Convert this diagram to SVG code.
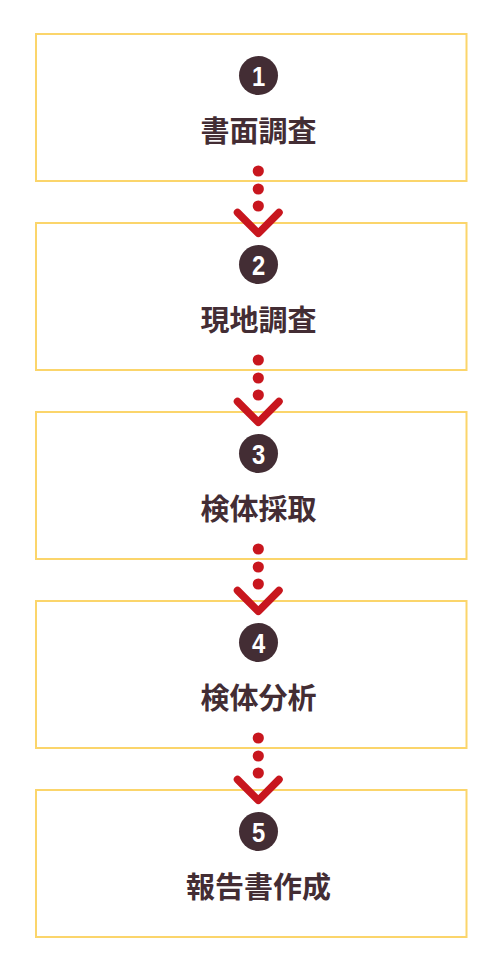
<svg xmlns="http://www.w3.org/2000/svg" width="500" height="970" viewBox="0 0 500 970">
<style>
.box{fill:#fff;stroke:#fbd56b;stroke-width:2}
.num{fill:#432d34}
.nt{fill:#fff;font-family:"Liberation Sans",sans-serif;font-weight:bold;font-size:28px;text-anchor:middle}
.lbl{fill:#432d34;font-family:"Noto Sans CJK JP",sans-serif;font-weight:bold;font-size:29px;text-anchor:middle}
.dot{fill:#c8161e}
.chev{fill:none;stroke:#c8161e;stroke-width:7.5;stroke-linecap:round;stroke-linejoin:round}
</style>
<rect width="500" height="970" fill="#fff"/>
<g id="node1"><rect class="box" x="36" y="34" width="430.5" height="147"/><circle class="num" cx="258.5" cy="75.5" r="19.5"/><text class="nt" transform="translate(258.5,86) scale(0.85,1)">1</text><text class="lbl" x="258.5" y="142">書面調査</text></g>
<g id="node2"><rect class="box" x="36" y="223" width="430.5" height="147"/><circle class="num" cx="258.5" cy="264.5" r="19.5"/><text class="nt" transform="translate(258.5,275) scale(0.85,1)">2</text><text class="lbl" x="258.5" y="331">現地調査</text></g>
<g id="node3"><rect class="box" x="36" y="412" width="430.5" height="147"/><circle class="num" cx="258.5" cy="453.5" r="19.5"/><text class="nt" transform="translate(258.5,464) scale(0.85,1)">3</text><text class="lbl" x="258.5" y="520">検体採取</text></g>
<g id="node4"><rect class="box" x="36" y="601" width="430.5" height="147"/><circle class="num" cx="258.5" cy="642.5" r="19.5"/><text class="nt" transform="translate(258.5,653) scale(0.85,1)">4</text><text class="lbl" x="258.5" y="709">検体分析</text></g>
<g id="node5"><rect class="box" x="36" y="790" width="430.5" height="147"/><circle class="num" cx="258.5" cy="831.5" r="19.5"/><text class="nt" transform="translate(258.5,842) scale(0.85,1)">5</text><text class="lbl" x="258.5" y="898">報告書作成</text></g>
<g id="connectors">
<g><circle class="dot" cx="258.3" cy="171" r="5.6"/><circle class="dot" cx="258.3" cy="189" r="5.6"/><circle class="dot" cx="258.3" cy="206" r="5.6"/><polyline class="chev" points="237.5,212.5 258.3,233.3 279,212.5"/></g>
<g transform="translate(0,189)"><circle class="dot" cx="258.3" cy="171" r="5.6"/><circle class="dot" cx="258.3" cy="189" r="5.6"/><circle class="dot" cx="258.3" cy="206" r="5.6"/><polyline class="chev" points="237.5,212.5 258.3,233.3 279,212.5"/></g>
<g transform="translate(0,378)"><circle class="dot" cx="258.3" cy="171" r="5.6"/><circle class="dot" cx="258.3" cy="189" r="5.6"/><circle class="dot" cx="258.3" cy="206" r="5.6"/><polyline class="chev" points="237.5,212.5 258.3,233.3 279,212.5"/></g>
<g transform="translate(0,567)"><circle class="dot" cx="258.3" cy="171" r="5.6"/><circle class="dot" cx="258.3" cy="189" r="5.6"/><circle class="dot" cx="258.3" cy="206" r="5.6"/><polyline class="chev" points="237.5,212.5 258.3,233.3 279,212.5"/></g>
</g>
</svg>
